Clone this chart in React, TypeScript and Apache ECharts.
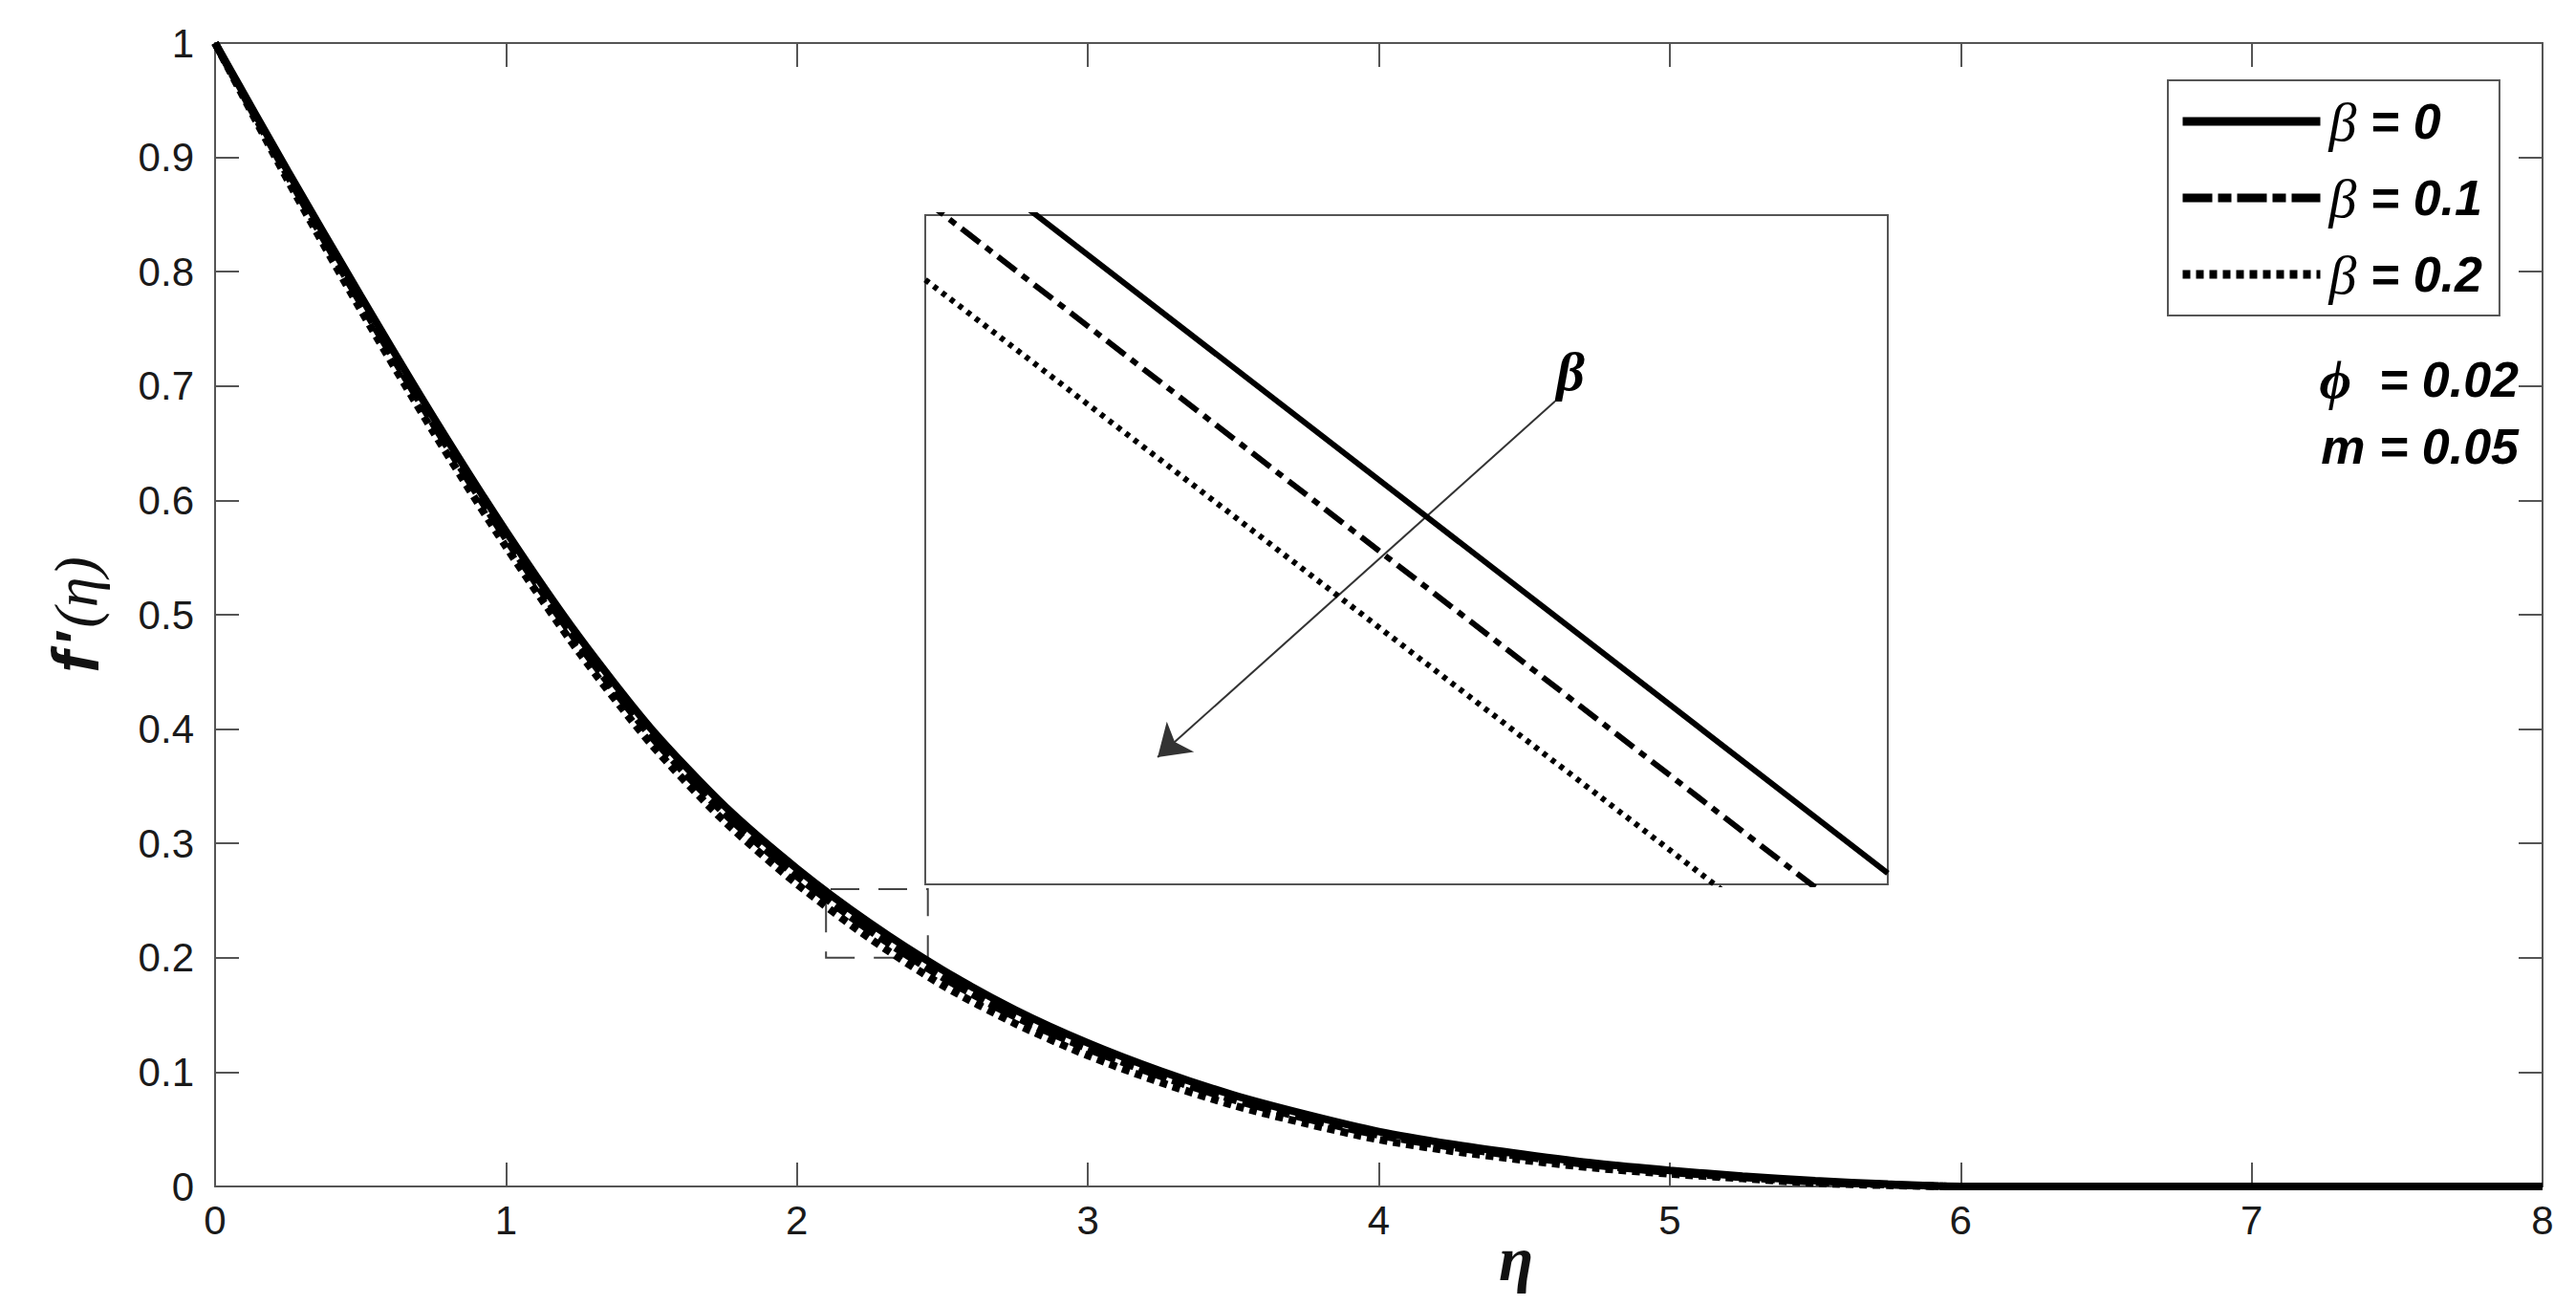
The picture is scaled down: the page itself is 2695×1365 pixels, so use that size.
import React, { useEffect, useRef } from "react";
import * as echarts from "echarts";

// ---- data ----
const etaTicks = [0, 1, 2, 3, 4, 5, 6, 7, 8];
const yTickLabels = ["0", "0.1", "0.2", "0.3", "0.4", "0.5", "0.6", "0.7", "0.8", "0.9", "1"];

const seriesNames = ["β = 0", "β = 0.1", "β = 0.2"];

const eta = [0, 0.25, 0.5, 0.75, 1.0, 1.25, 1.5, 1.75, 2.0, 2.25, 2.5, 2.75, 3.0, 3.25, 3.5, 3.75, 4.0, 4.25, 4.5, 4.75, 5.0, 5.25, 5.5, 5.75, 6.0, 6.5, 7.0, 7.5, 8.0];
const fBeta0 = [1.0, 0.888, 0.779, 0.673, 0.573, 0.481, 0.4, 0.333, 0.278, 0.2305, 0.1895, 0.1545, 0.1255, 0.101, 0.08, 0.063, 0.048, 0.037, 0.028, 0.02, 0.014, 0.009, 0.005, 0.002, 0, 0, 0, 0, 0];
const fBeta01 = [1.0, 0.884, 0.773, 0.667, 0.5665, 0.4745, 0.3935, 0.3265, 0.2715, 0.224, 0.183, 0.1485, 0.1205, 0.0965, 0.076, 0.0595, 0.045, 0.0345, 0.026, 0.0185, 0.0125, 0.008, 0.004, 0.0015, 0, 0, 0, 0, 0];
const fBeta02 = [1.0, 0.88, 0.767, 0.66, 0.5595, 0.4675, 0.3865, 0.3195, 0.2645, 0.217, 0.176, 0.1425, 0.1145, 0.091, 0.071, 0.055, 0.041, 0.031, 0.023, 0.016, 0.011, 0.007, 0.003, 0.001, 0, 0, 0, 0, 0];

// zoom window (dashed box) = inset axis ranges
const zoomEta = [2.1, 2.45];
const zoomF = [0.2, 0.26];

// inset (magnified) lines
const insetEta = [2.1, 2.45];
const insetBeta0 = [0.2677, 0.201];
const insetBeta01 = [0.2613, 0.1947];
const insetBeta02 = [0.2542, 0.1881];

// arrow inside the inset (data units of the inset)
const arrowFrom = [2.329, 0.2433];
const arrowTo = [2.1845, 0.2114];

const SANS = "Liberation Sans";
const SERIF = "Liberation Serif";
const AXIS_COLOR = "#555";

const pairs = (xs: number[], ys: number[]) => xs.map((x, i) => [x, ys[i]]);

const mainStyles = [
  { type: "solid" as any },
  { type: [31, 6, 14, 6] as any },
  { type: [8, 6] as any },
];
const insetStyles = [
  { type: "solid" as any },
  { type: [24, 8, 8, 8] as any },
  { type: [5, 6] as any },
];

export default function App() {
  const ref = useRef<HTMLDivElement>(null);

  useEffect(() => {
    if (!ref.current) return;
    const chart = echarts.init(ref.current, undefined, { renderer: "svg" });

    const axisLine = { onZero: false, lineStyle: { color: AXIS_COLOR, width: 2 } };
    const axisTick = { inside: true, length: 25, lineStyle: { color: AXIS_COLOR, width: 2 } };

    const mainData = [fBeta0, fBeta01, fBeta02];
    const insetData = [insetBeta0, insetBeta01, insetBeta02];

    const series: any[] = [];
    mainData.forEach((ys, i) => {
      const s: any = {
        name: seriesNames[i],
        type: "line",
        xAxisIndex: 0,
        yAxisIndex: 0,
        data: pairs(eta, ys),
        symbol: "none",
        showSymbol: false,
        smooth: 0.25,
        itemStyle: { color: "#000" },
        lineStyle: { color: "#000", width: 8, ...mainStyles[i] },
        z: 3,
      };
      if (i === 0) {
        s.markArea = {
          silent: true,
          data: [[{ coord: [zoomEta[0], zoomF[0]] }, { coord: [zoomEta[1], zoomF[1]] }]],
          itemStyle: { color: "rgba(0,0,0,0)", borderColor: "#444", borderWidth: 2, borderType: [30, 20] },
        };
      }
      series.push(s);
    });
    insetData.forEach((ys, i) => {
      const s: any = {
        name: seriesNames[i],
        type: "line",
        xAxisIndex: 2,
        yAxisIndex: 2,
        data: pairs(insetEta, ys),
        symbol: "none",
        showSymbol: false,
        itemStyle: { color: "#000" },
        lineStyle: { color: "#000", width: 6, ...insetStyles[i] },
        z: 5,
      };
      if (i === 0) {
        s.markLine = {
          silent: true,
          symbol: ["none", "arrow"],
          symbolSize: 32,
          label: { show: false },
          itemStyle: { color: "#111" },
          lineStyle: { color: "#333", width: 2, type: "solid" },
          data: [[{ coord: arrowFrom }, { coord: arrowTo }]],
        };
      }
      series.push(s);
    });

    const option: any = {
      animation: false,
      backgroundColor: "#fff",
      textStyle: { fontFamily: SANS },
      grid: [
        { left: 225, right: 35, top: 45, bottom: 124, show: false, outerBoundsMode: "none", containLabel: false },
        {
          left: 968, top: 225, width: 1007, height: 700, show: true, outerBoundsMode: "none",
          borderColor: AXIS_COLOR, borderWidth: 2, backgroundColor: "#fff", z: 4,
        },
      ],
      xAxis: [
        {
          gridIndex: 0, type: "value", position: "bottom",
          min: etaTicks[0], max: etaTicks[etaTicks.length - 1], interval: 1,
          axisLine, axisTick, splitLine: { show: false },
          axisLabel: { fontSize: 42, fontFamily: SANS, color: "#1a1a1a", margin: 14 },
          name: "η", nameLocation: "middle", nameGap: 42, nameMoveOverlap: false,
          nameTextStyle: {
            fontFamily: SERIF, fontStyle: "italic", fontWeight: "bold", fontSize: 66,
            color: "#111", padding: [0, 0, 0, 287],
          },
        },
        {
          gridIndex: 0, type: "value", position: "top",
          min: etaTicks[0], max: etaTicks[etaTicks.length - 1], interval: 1,
          axisLine, axisTick, splitLine: { show: false }, axisLabel: { show: false },
        },
        { gridIndex: 1, type: "value", min: zoomEta[0], max: zoomEta[1], show: false },
      ],
      yAxis: [
        {
          gridIndex: 0, type: "value", position: "left",
          min: 0, max: 1, interval: 0.1,
          axisLine, axisTick, splitLine: { show: false },
          axisLabel: {
            fontSize: 42, fontFamily: SANS, color: "#1a1a1a", margin: 22,
            formatter: (v: number) => yTickLabels[Math.round(v * 10)],
          },
          name: "{f|f}{p|′}{e|(η)}", nameLocation: "middle", nameGap: 112, nameMoveOverlap: false,
          nameTextStyle: {
            color: "#111",
            rich: {
              f: { fontFamily: SANS, fontStyle: "italic", fontWeight: "bold", fontSize: 68, color: "#111" },
              p: { fontFamily: SANS, fontWeight: "bold", fontSize: 60, color: "#111", padding: [0, 2, 0, 8] },
              e: { fontFamily: SERIF, fontStyle: "italic", fontSize: 64, color: "#111" },
            },
          },
        },
        {
          gridIndex: 0, type: "value", position: "right",
          min: 0, max: 1, interval: 0.1,
          axisLine, axisTick, splitLine: { show: false }, axisLabel: { show: false },
        },
        { gridIndex: 1, type: "value", min: zoomF[0], max: zoomF[1], show: false },
      ],
      legend: {
        data: seriesNames,
        orient: "vertical",
        left: 2268,
        top: 84,
        itemWidth: 144,
        itemHeight: 16,
        itemGap: 22,
        padding: [14, 18, 14, 11],
        borderColor: AXIS_COLOR,
        borderWidth: 2,
        backgroundColor: "#fff",
        selectedMode: false,
        itemStyle: { opacity: 0, borderWidth: 0 },
        lineStyle: { width: 9, color: "#000" },
        formatter: (name: string) => `{b|β}{t|${name.slice(1)}}`,
        textStyle: {
          padding: [0, 0, 0, 4],
          rich: {
            b: { fontFamily: SERIF, fontStyle: "italic", fontSize: 58, lineHeight: 58, color: "#000" },
            t: { fontFamily: SANS, fontStyle: "italic", fontWeight: "bold", fontSize: 52, lineHeight: 58, color: "#000" },
          },
        },
      },
      graphic: [
        {
          type: "text", z: 10,
          style: {
            x: 1643, y: 388, text: "β", align: "center", verticalAlign: "middle",
            font: `italic bold 58px "${SERIF}"`, fill: "#000",
          },
        },
        {
          type: "text", z: 10,
          style: {
            x: 2635, y: 397, align: "right", verticalAlign: "middle",
            text: "{p|ϕ}{t|  = 0.02}",
            rich: {
              p: { fontFamily: SERIF, fontStyle: "italic", fontWeight: "bold", fontSize: 58, fill: "#000" },
              t: { fontFamily: SANS, fontStyle: "italic", fontWeight: "bold", fontSize: 52, fill: "#000" },
            },
          },
        },
        {
          type: "text", z: 10,
          style: {
            x: 2635, y: 467, align: "right", verticalAlign: "middle",
            text: "m = 0.05",
            font: `italic bold 52px "${SANS}"`, fill: "#000",
          },
        },
      ],
      series,
    };

    chart.setOption(option);
    return () => chart.dispose();
  }, []);

  return (
    <div
      ref={ref}
      style={{ position: "absolute", left: 0, top: 0, width: 2695, height: 1365 }}
    />
  );
}
